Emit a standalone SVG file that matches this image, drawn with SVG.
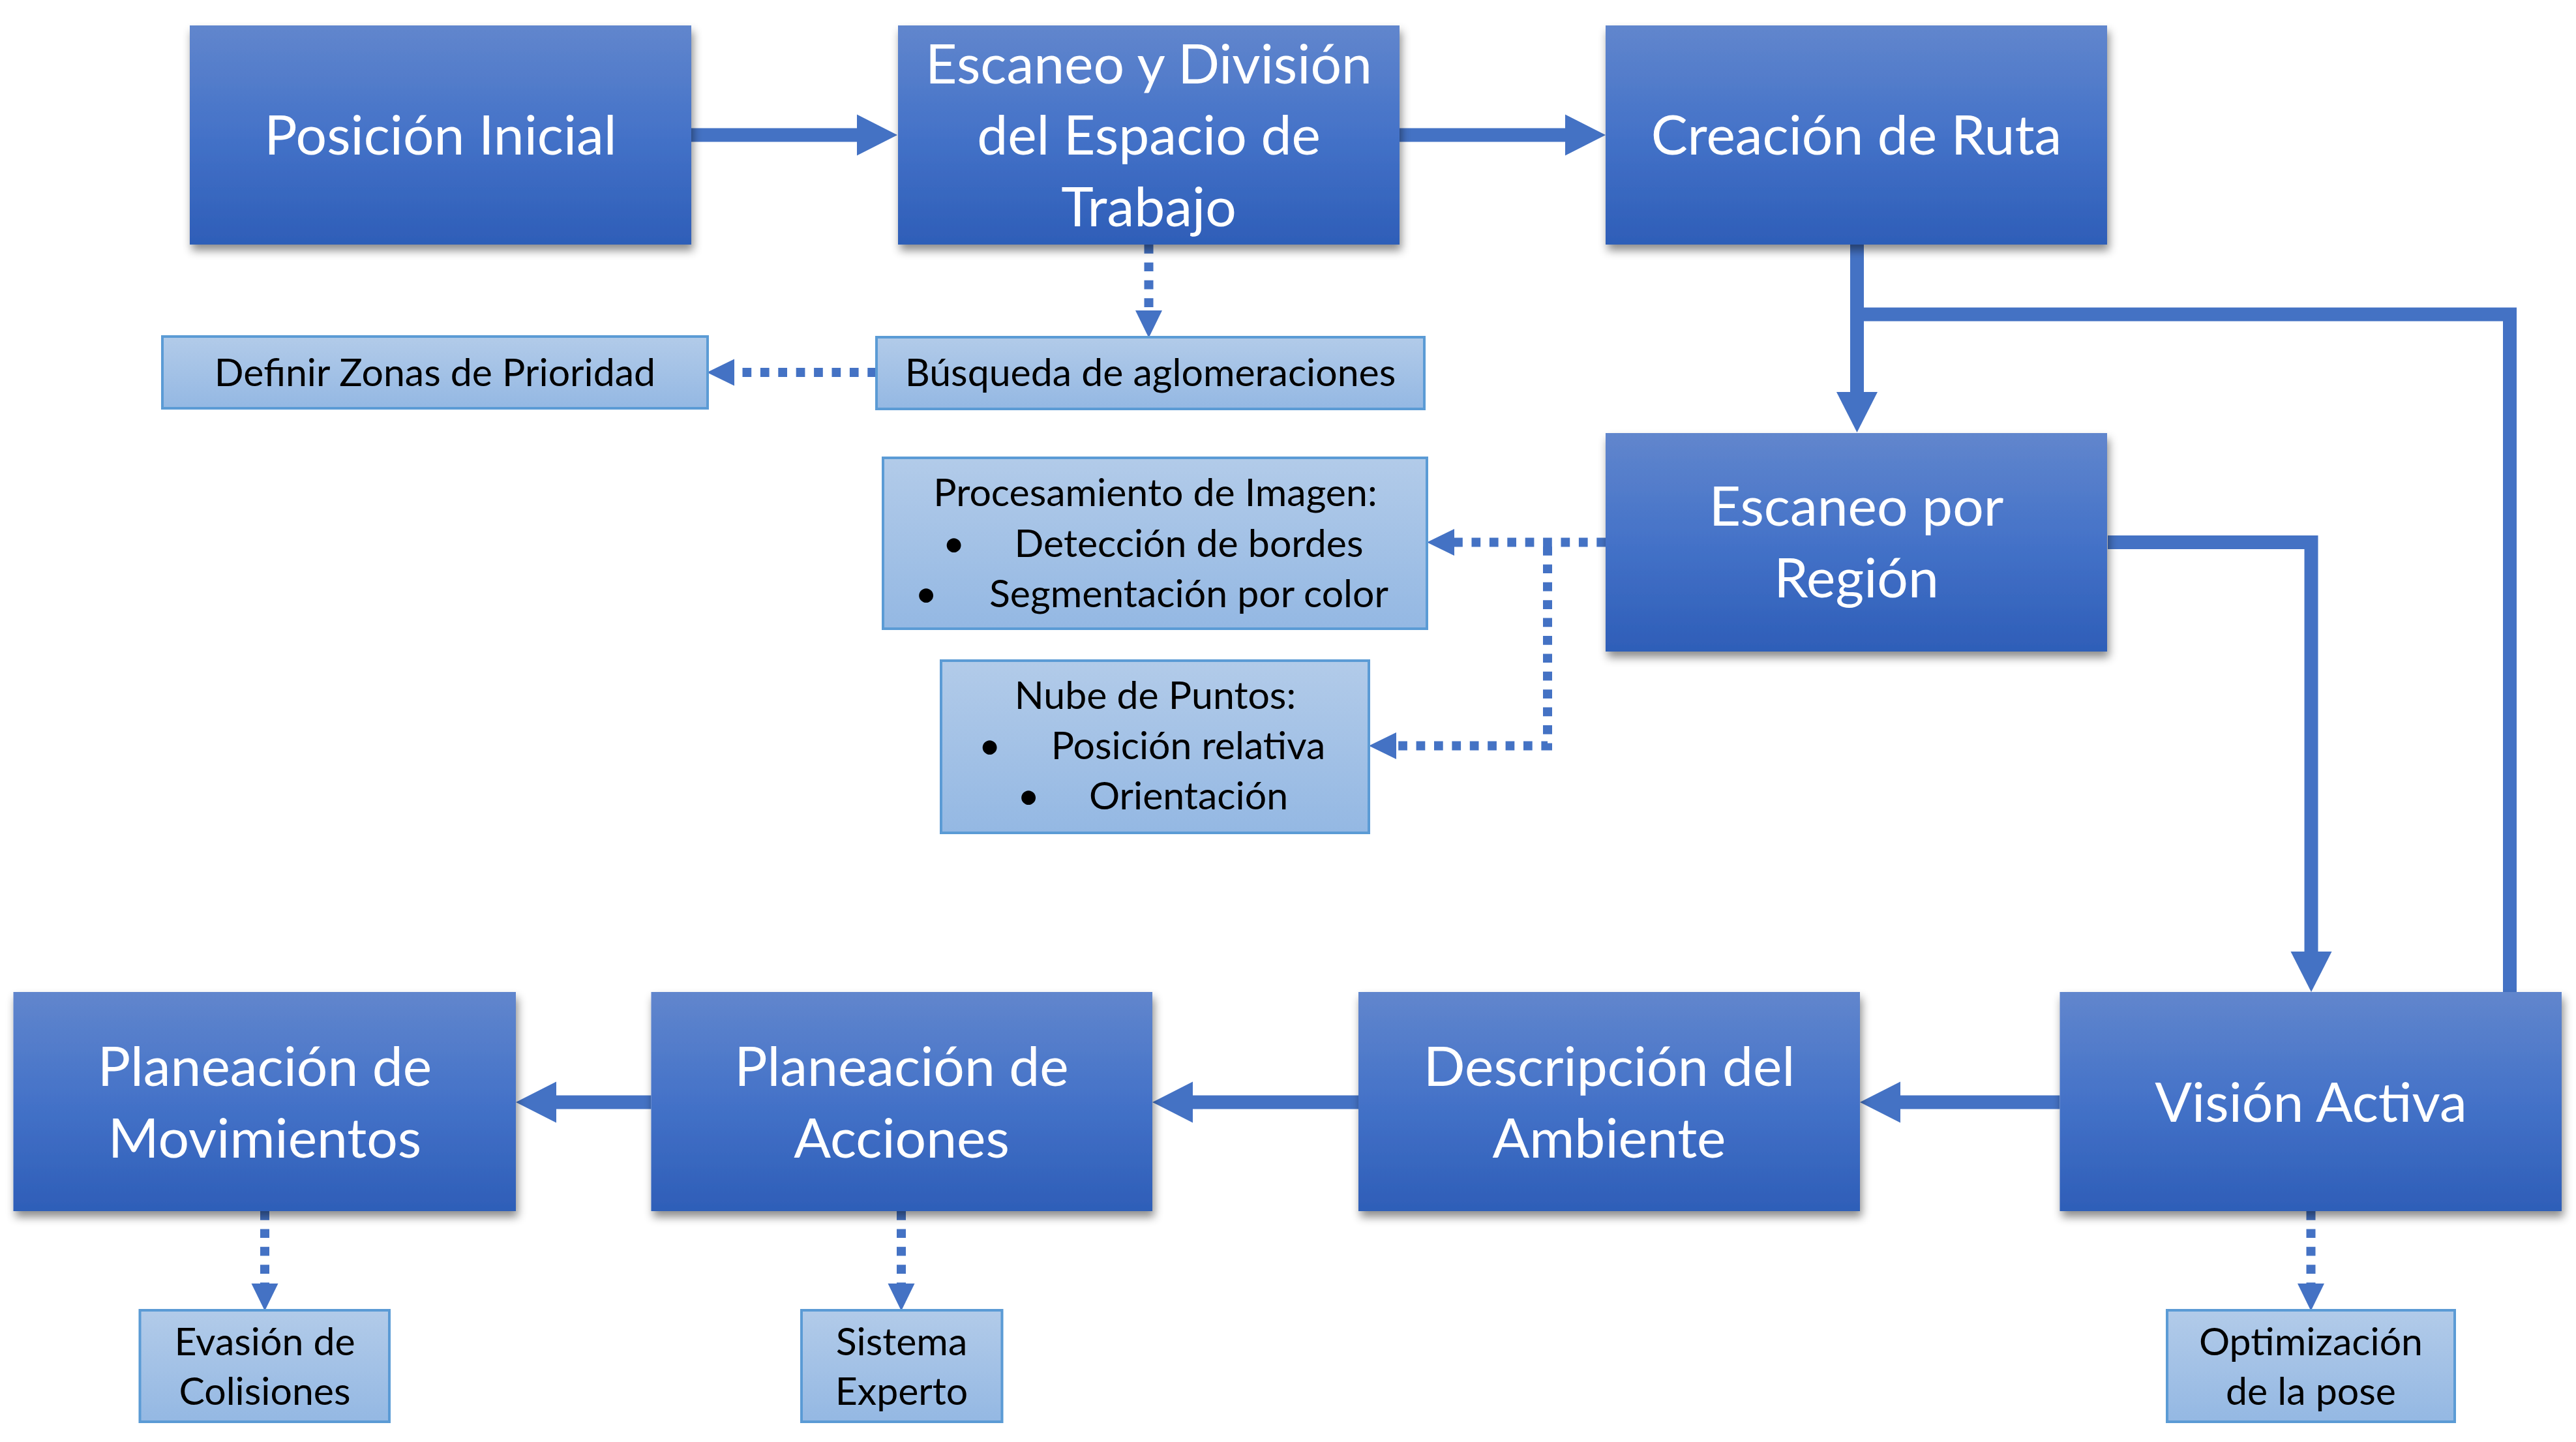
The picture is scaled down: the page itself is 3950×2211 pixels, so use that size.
<svg xmlns="http://www.w3.org/2000/svg" width="3950" height="2211" viewBox="0 0 3950 2211">
<defs>
  <linearGradient id="gDark" x1="0" y1="0" x2="0" y2="1">
    <stop offset="0" stop-color="#6186CD"/>
    <stop offset="0.5" stop-color="#4472C8"/>
    <stop offset="1" stop-color="#2E5EB8"/>
  </linearGradient>
  <linearGradient id="gLight" x1="0" y1="0" x2="0" y2="1">
    <stop offset="0" stop-color="#B2CBE9"/>
    <stop offset="1" stop-color="#94B8E3"/>
  </linearGradient>
  <filter id="shadow" x="-10%" y="-10%" width="125%" height="135%">
    <feDropShadow dx="3" dy="9" stdDeviation="7" flood-color="#000" flood-opacity="0.45"/>
  </filter>
  <marker id="ahThick" markerUnits="userSpaceOnUse" markerWidth="63" markerHeight="64" refX="0" refY="31.5" orient="auto" overflow="visible">
    <path d="M0,0 L62,31.5 L0,63 Z" fill="#4472C4"/>
  </marker>
  <marker id="ahDot" markerUnits="userSpaceOnUse" markerWidth="43" markerHeight="42" refX="0" refY="20.5" orient="auto" overflow="visible">
    <path d="M0,0 L42,20.5 L0,41 Z" fill="#4472C4"/>
  </marker>
  <style>
    .dark rect { fill: url(#gDark); filter: url(#shadow); }
    .light rect { fill: url(#gLight); stroke: #5B9BD5; stroke-width: 4; }
    .dark text { font-family: Lato, "Liberation Sans", sans-serif; font-size: 84px; fill: #FFFFFF; text-anchor: middle; }
    .light text { font-family: Lato, "Liberation Sans", sans-serif; font-size: 59px; fill: #000000; text-anchor: middle; }
    .thick { fill: none; stroke: #4472C4; stroke-width: 21; stroke-linejoin: miter; }
    .dot { fill: none; stroke: #4472C4; stroke-width: 14; stroke-dasharray: 13.7 13.7; }
  </style>
</defs>

<g id="connectors">
  <path class="thick" d="M1060,207 H1314" marker-end="url(#ahThick)"/>
  <path class="thick" d="M2146,207 H2400" marker-end="url(#ahThick)"/>
  <path class="thick" d="M3848.5,1524 V482 H2848"/>
  <path class="thick" d="M2847.5,375 V601" marker-end="url(#ahThick)"/>
  <path class="thick" d="M3232,831.5 H3544 V1459" marker-end="url(#ahThick)"/>
  <path class="thick" d="M3158.5,1690 H2914" marker-end="url(#ahThick)"/>
  <path class="thick" d="M2083,1690 H1829" marker-end="url(#ahThick)"/>
  <path class="thick" d="M998.5,1690 H853" marker-end="url(#ahThick)"/>

  <path class="dot" d="M1761.5,375 V476" marker-end="url(#ahDot)"/>
  <path class="dot" d="M1344,571 H1126" marker-end="url(#ahDot)"/>
  <path class="dot" d="M2462,831.5 H2230" marker-end="url(#ahDot)"/>
  <path class="dot" d="M2373,838 V1143.5 H2141" marker-end="url(#ahDot)"/>
  <path class="dot" d="M3543.5,1857 V1968" marker-end="url(#ahDot)"/>
  <path class="dot" d="M406,1857 V1968" marker-end="url(#ahDot)"/>
  <path class="dot" d="M1382,1857 V1968" marker-end="url(#ahDot)"/>
</g>

<g id="posicion-inicial" class="dark">
  <rect x="291" y="39" width="769" height="336"/>
  <text x="675.5" y="237">Posición Inicial</text>
</g>
<g id="escaneo-division" class="dark">
  <rect x="1377" y="39" width="769" height="336"/>
  <text x="1761.5" y="128">Escaneo y División</text>
  <text x="1761.5" y="237">del Espacio de</text>
  <text x="1761.5" y="347">Trabajo</text>
</g>
<g id="creacion-ruta" class="dark">
  <rect x="2462" y="39" width="769" height="336"/>
  <text x="2846.5" y="237">Creación de Ruta</text>
</g>
<g id="escaneo-region" class="dark">
  <rect x="2462" y="664" width="769" height="335"/>
  <text x="2846.5" y="806">Escaneo por</text>
  <text x="2846.5" y="916">Región</text>
</g>
<g id="vision-activa" class="dark">
  <rect x="3158.5" y="1521" width="769.5" height="336"/>
  <text x="3543.5" y="1720">Visión Activa</text>
</g>
<g id="descripcion-ambiente" class="dark">
  <rect x="2083" y="1521" width="769" height="336"/>
  <text x="2467.5" y="1665">Descripción del</text>
  <text x="2467.5" y="1775">Ambiente</text>
</g>
<g id="planeacion-acciones" class="dark">
  <rect x="998.5" y="1521" width="768.5" height="336"/>
  <text x="1382.5" y="1665">Planeación de</text>
  <text x="1382.5" y="1775">Acciones</text>
</g>
<g id="planeacion-movimientos" class="dark">
  <rect x="20.5" y="1521" width="770.5" height="336"/>
  <text x="406" y="1665">Planeación de</text>
  <text x="406" y="1775">Movimientos</text>
</g>

<g id="definir-zonas" class="light">
  <rect x="249" y="516" width="836" height="110"/>
  <text x="667" y="592">Definir Zonas de Prioridad</text>
</g>
<g id="busqueda-aglomeraciones" class="light">
  <rect x="1344" y="517" width="840" height="110"/>
  <text x="1764" y="592">Búsqueda de aglomeraciones</text>
</g>
<g id="procesamiento-imagen" class="light">
  <rect x="1354" y="702" width="834" height="262"/>
  <text x="1771.5" y="776">Procesamiento de Imagen:</text>
  <text x="1462.5" y="854">•</text>
  <text x="1823" y="854">Detección de bordes</text>
  <text x="1420" y="931">•</text>
  <text x="1823" y="931">Segmentación por color</text>
</g>
<g id="nube-puntos" class="light">
  <rect x="1443" y="1013" width="656" height="264"/>
  <text x="1771.5" y="1087">Nube de Puntos:</text>
  <text x="1517.5" y="1164">•</text>
  <text x="1822" y="1164">Posición relativa</text>
  <text x="1577" y="1241">•</text>
  <text x="1822.5" y="1241">Orientación</text>
</g>
<g id="evasion-colisiones" class="light">
  <rect x="214.5" y="2009" width="382.5" height="171"/>
  <text x="406" y="2078">Evasión de</text>
  <text x="406" y="2154">Colisiones</text>
</g>
<g id="sistema-experto" class="light">
  <rect x="1229" y="2009" width="307.5" height="171"/>
  <text x="1382.5" y="2078">Sistema</text>
  <text x="1382.5" y="2154">Experto</text>
</g>
<g id="optimizacion-pose" class="light">
  <rect x="3323" y="2009" width="441" height="171"/>
  <text x="3543.5" y="2078">Optimización</text>
  <text x="3543.5" y="2154">de la pose</text>
</g>
</svg>
